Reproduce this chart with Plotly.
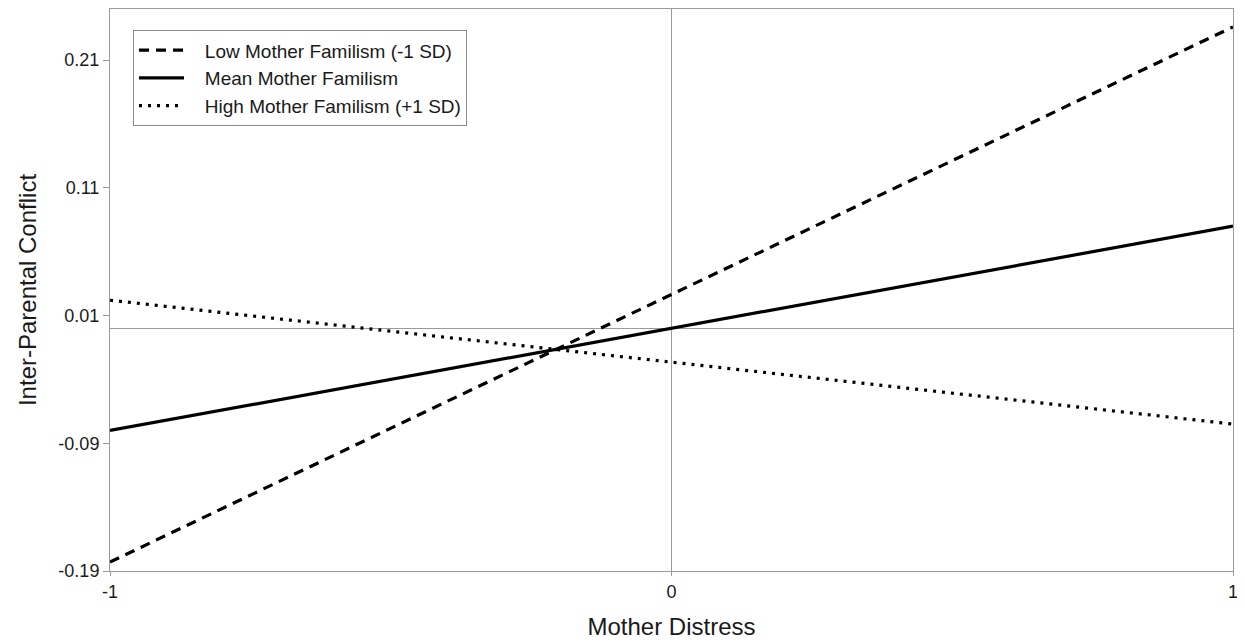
import plotly.graph_objects as go

x_vals = [-1, 1]
series_names = ["Low Mother Familism (-1 SD)", "Mean Mother Familism", "High Mother Familism (+1 SD)"]
low_vals = [-0.183, 0.236]
mean_vals = [-0.080, 0.080]
high_vals = [0.022, -0.075]
y_ticks = [-0.19, -0.09, 0.01, 0.11, 0.21]
x_ticks = [-1, 0, 1]

fig = go.Figure()
styles = [("10px,7px", 3.2), ("solid", 3.2), ("3px,6px", 3.2)]
pad = "\u00a0\u00a0\u00a0"
for name, vals, (dash, w) in zip(series_names, [low_vals, mean_vals, high_vals], styles):
    fig.add_trace(go.Scatter(x=x_vals, y=vals, mode="lines", name=pad + name,
                             line=dict(color="black", width=w, dash=dash)))

axis_common = dict(showgrid=False, zeroline=True, zerolinecolor="#9a9a9a", zerolinewidth=1,
                   showline=True, linecolor="#9a9a9a", linewidth=1, mirror=True,
                   ticks="outside", tickcolor="#9a9a9a",
                   tickfont=dict(size=18, color="#1a1a1a"))

fig.update_xaxes(range=[-1, 1], tickvals=x_ticks, ticktext=[str(v) for v in x_ticks], ticklen=4,
                 title=dict(text="Mother Distress", font=dict(size=24, color="#1a1a1a"), standoff=17),
                 **axis_common)
fig.update_yaxes(range=[-0.19, 0.25], tickvals=y_ticks, ticktext=[f"{v:.2f}" for v in y_ticks], ticklen=6,
                 title=dict(text="Inter-Parental Conflict", font=dict(size=24, color="#1a1a1a"), standoff=14),
                 **axis_common)

fig.update_layout(
    width=1237, height=636,
    margin=dict(l=102, r=12, t=1, b=73),
    paper_bgcolor="white", plot_bgcolor="white",
    font=dict(family="Liberation Sans, Arial, sans-serif", color="#1a1a1a"),
    showlegend=True,
    legend=dict(x=0.0205, y=0.962, xanchor="left", yanchor="top",
                bgcolor="white", bordercolor="#8a8a8a", borderwidth=1,
                font=dict(size=19, color="#1a1a1a"), itemwidth=45,
                tracegroupgap=0),
)

fig.write_html("out.html")
